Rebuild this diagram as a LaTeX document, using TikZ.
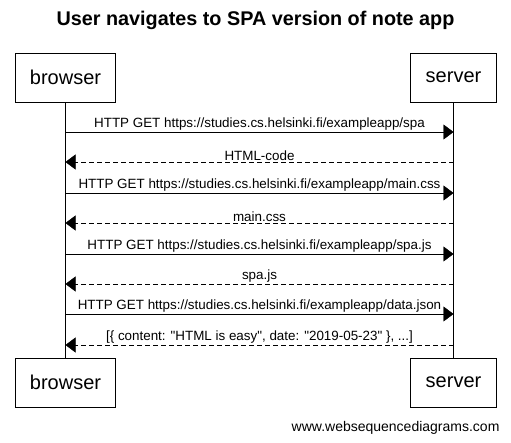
\documentclass[tikz,border=0pt]{standalone}
\usepackage{fontspec}
\setmainfont{Liberation Sans}
\usetikzlibrary{arrows.meta}

\tikzset{
  actor/.style={draw, thick, minimum height=49pt, inner sep=0pt, font=\fontsize{20}{24}\selectfont},
  msg/.style={-{Triangle[length=10pt,width=15pt]}, thin},
  reply/.style={msg, dash pattern=on 5pt off 3pt},
  msglabel/.style={above, inner sep=1.5pt, font=\fontsize{13.4}{15}\selectfont}
}

\begin{document}
\begin{tikzpicture}[x=1pt,y=-1pt]
\useasboundingbox (0,0) rectangle (511,442);

\node[font=\bfseries\fontsize{19.8}{22}\selectfont] (title) at (255.5,20) {User navigates to SPA version of note app};

\node[actor, minimum width=100pt] (browsertop) at (65.5,77.5) {browser};
\node[actor, minimum width=86pt] (servertop) at (453.5,77.5) {server};
\node[actor, minimum width=100pt] (browserbot) at (65.5,382.5) {browser};
\node[actor, minimum width=86pt] (serverbot) at (453.5,382.5) {server};

\draw[thin] (browsertop) -- (browserbot) ;
\draw[thin] (servertop) -- (serverbot) ;

% messages
\coordinate (b1) at (65.5,132) ; \coordinate (s1) at (453.5,132) ;
\coordinate (b2) at (65.5,162) ; \coordinate (s2) at (453.5,162) ;
\coordinate (b3) at (65.5,193) ; \coordinate (s3) at (453.5,193) ;
\coordinate (b4) at (65.5,223) ; \coordinate (s4) at (453.5,223) ;
\coordinate (b5) at (65.5,254) ; \coordinate (s5) at (453.5,254) ;
\coordinate (b6) at (65.5,284) ; \coordinate (s6) at (453.5,284) ;
\coordinate (b7) at (65.5,314) ; \coordinate (s7) at (453.5,314) ;
\coordinate (b8) at (65.5,345) ; \coordinate (s8) at (453.5,345) ;

\draw[msg] (b1) -- node[msglabel] {HTTP GET https://studies.cs.helsinki.fi/exampleapp/spa} (s1) ;
\draw[reply] (s2) -- node[msglabel] {HTML-code} (b2) ;
\draw[msg] (b3) -- node[msglabel] {HTTP GET https://studies.cs.helsinki.fi/exampleapp/main.css} (s3) ;
\draw[reply] (s4) -- node[msglabel] {main.css} (b4) ;
\draw[msg] (b5) -- node[msglabel] {HTTP GET https://studies.cs.helsinki.fi/exampleapp/spa.js} (s5) ;
\draw[reply] (s6) -- node[msglabel] {spa.js} (b6) ;
\draw[msg] (b7) -- node[msglabel] {HTTP GET https://studies.cs.helsinki.fi/exampleapp/data.json} (s7) ;
\draw[reply] (s8) -- node[msglabel] {[\{ content: \textquotedbl HTML is easy\textquotedbl, date: \textquotedbl 2019-05-23\textquotedbl\ \}, ...]} (b8) ;

\node[anchor=east, font=\fontsize{14}{16}\selectfont] (footer) at (503,428) {www.websequencediagrams.com};

\end{tikzpicture}
\end{document}
